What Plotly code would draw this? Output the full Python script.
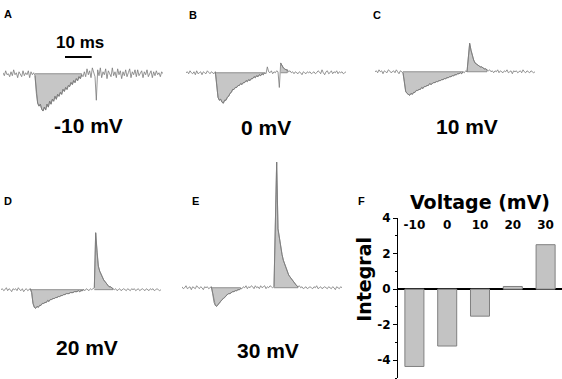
import plotly.graph_objects as go

W, H = 562, 379
dt_ms = 0.5  # sampling interval of the recordings

panel_letters = ["A", "B", "C", "D", "E", "F"]
trace_labels = ["-10 mV", "0 mV", "10 mV", "20 mV", "30 mV"]

# Current traces (arbitrary units, baseline = 0), sampled every 0.5 ms
current_A = [1, -2, 3, -1, 0, -3, 2, -2, 4, -1, 1, -4, 2, 0, -3, 3, -2, 1, -1, 3, -4, 2, -1, 1, -2,
             -20, -30, -33, -31, -36, -38, -34, -37, -31, -34, -28, -31, -26, -28, -23, -26, -21, -23,
             -19, -21, -16, -18, -14, -16, -12, -13, -9, -11, -7, -9, -5, -7, -3, -5, -1, -3,
             2, -3, 5, -1, 3, -4, 6, 0, -3, -27, 4, -2, 6, -4, 2, -1, 5, -5, 3, 0,
             -3, 6, -2, 2, -4, 5, -1, 3, -5, 2, -2, 4, -3, 1, 5, -4, 2, -1, 4, -3,
             4, -2, 0, 3, -4, 2, -1, 4, -3, 1, 3, -4, 2, -2, 3, -1, 1, -3, 2, 0]
current_B = [0, 1, -1, 2, 0, -1, 1, -2, 2, -1, 0, 1, -2, 1, 0, -1, 2, 0, -1, 1, 0, -1, 1,
             -14, -25, -28, -27, -30, -31, -28, -28, -25, -24, -21, -20, -17, -17, -15, -15, -13, -13,
             -11, -12, -10, -10, -8, -9, -7, -8, -6, -6, -4, -5, -3, -4, -2, -3, -1, -2, 0, -1,
             6, 1, 0, 2, -1, 1, 0, 2, 1, -15, 10, 7, 5, 4, 3, 3, 1, 2, 0, 1,
             -1, 1, 0, -1, 1, 0, -2, 1, 0, -1, 1, 0, 1, -1, 0, 1, -1, 0, 2, 1,
             -1, 3, 0, -2, 1, 2, -1, 0, 2, -1, 1, 0, 2, -1, 1, 0, 1, -1, 0, 1]
current_C = [0, 1, -1, 2, 0, 1, -2, 1, 0, -1, 2, 1, -1, 0, 1, -1, 2, 0, -2, 1, 0, -1,
             -10, -20, -22, -23, -24, -22, -23, -21, -21, -19, -19, -18, -18, -16, -17, -15, -15, -14,
             -14, -12, -13, -12, -11, -11, -10, -10, -9, -9, -8, -8, -7, -7, -6, -6, -5, -5, -4, -4,
             -3, -3, -2, -2, -1, -2, 0, -1,
             1, 0, 18, 29, 22, 16, 12, 9, 8, 7, 6, 5, 5, 4, 3, 3, 2, 1, 2, 0, 1, -1, 1, 0, 2, -1,
             1, 0, -1, 1, 0, 2, -1, 0, 1, -2, 1, 0, 1, -1, 0, 1, -1, 2, 0, -1, 1, 0, -1, 1, 0, -1, 0]
current_D = [0, 1, -1, 0, 2, -1, 1, 0, -2, 1, 0, 1, -1, 2, 0, -1, 1, -2, 0, 1, -1, 0, 1,
             -3, -14, -18, -19, -17, -18, -16, -16, -14, -14, -13, -13, -11, -12, -10, -10, -9, -9,
             -8, -8, -7, -7, -6, -6, -5, -5, -4, -4, -4, -3, -3, -3, -2, -2, -2, -1, -2, -1, -1, 0, -1,
             1, 0, -1, 1, 0, 1, 2, 58, 38, 24, 19, 15, 13, 10, 8, 6, 5, 3, 3, 2, 1, 0, 1, -1, 0, 1,
             -1, 0, 1, 0, -1, 1, 0, -1, 1, 0, 1, -1, 0, 1, -1, 0, 1, 0, -1, 1, 0, -1, 1, 0, 1, -1,
             0, 1, 0, -1, 0]
current_E = [1, -1, 0, 2, -1, 0, 1, -2, 1, 0, -1, 2, 0, -1, 1, 0, -2, 1, 0, 1, -1, 0, 1,
             -6, -15, -18, -19, -17, -16, -14, -12, -11, -10, -8, -7, -6, -6, -5, -4, -4, -3, -3, -2,
             -2, -1, -1,
             1, 0, 2, -1, 1, 0, 2, 1, -1, 2, 0, 1, -1, 2, 0, 1, 2, -1, 1, 0, 2, 1, 0, 1,
             51, 128, 60, 50, 43, 34, 28, 24, 20, 16, 13, 11, 9, 7, 5, 4, 2, 1, 2, 0,
             1, -1, 0, 1, -1, 0, 1, 0, -1, 1, 0, 2, -1, 0, 1, -1, 0, 1, 0, -1, 1, 0, -1, 1, 0,
             -2, 1, 0, -1, 1, 0]
currents = [current_A, current_B, current_C, current_D, current_E]

# Time windows (ms) of the shaded (integrated) responses
fill_windows_A = [(12.0, 29.5)]
fill_windows_B = [(11.0, 29.5), (35.5, 38.0)]
fill_windows_C = [(10.5, 33.0), (34.5, 42.0)]
fill_windows_D = [(11.0, 31.0), (35.0, 42.0)]
fill_windows_E = [(11.0, 22.0), (34.5, 43.5)]
fill_windows = [fill_windows_A, fill_windows_B, fill_windows_C, fill_windows_D, fill_windows_E]

scale_bar_ms = 10

# Panel F: integral vs voltage
voltage_categories = ["-10", "0", "10", "20", "30"]
integral_values = [-4.35, -3.2, -1.52, 0.15, 2.5]
integral_ticks = [4, 2, 0, -2, -4]
integral_tick_labels = ["4", "2", "0", "-2", "-4"]

LINE = "#7a7a7a"
FILL = "#c6c6c6"
ARIAL = "Arial, Liberation Sans, Helvetica, sans-serif"
HEAVY = "DejaVu Sans, Verdana, sans-serif"

fig = go.Figure()

# pixel geometry of trace panels: (left px, baseline px, top units)
geom = [(3, 68, 60), (186, 67, 60), (375, 66, 60), (1, 288, 135), (182, 286, 135)]
trace_span_px = 160
t_max = 60

layout = dict(width=W, height=H, margin=dict(l=0, r=0, t=0, b=0),
              paper_bgcolor="white", plot_bgcolor="white", showlegend=False,
              bargap=0.42)

for k, (vals, windows, (x0, base, top)) in enumerate(zip(currents, fill_windows, geom), start=1):
    t = [i * dt_ms for i in range(len(vals))]
    xa = "x" if k == 1 else f"x{k}"
    ya = "y" if k == 1 else f"y{k}"
    for (s, e) in windows:
        idx = [i for i, tt in enumerate(t) if s <= tt <= e]
        px = [t[i] for i in idx] + [t[idx[-1]], t[idx[0]]]
        py = [vals[i] for i in idx] + [0, 0]
        fig.add_trace(go.Scatter(x=px, y=py, mode="lines", fill="toself",
                                 fillcolor=FILL, line=dict(color=LINE, width=0.8),
                                 xaxis=xa, yaxis=ya, hoverinfo="skip"))
    fig.add_trace(go.Scatter(x=t, y=vals, mode="lines",
                             line=dict(color=LINE, width=0.8),
                             xaxis=xa, yaxis=ya))
    xk = "xaxis" if k == 1 else f"xaxis{k}"
    yk = "yaxis" if k == 1 else f"yaxis{k}"
    layout[xk] = dict(domain=[x0 / W, (x0 + trace_span_px) / W], range=[0, t_max],
                      visible=False, anchor=ya)
    layout[yk] = dict(domain=[1 - (base + 45) / H, 1 - (base - top) / H], range=[-45, top],
                      visible=False, anchor=xa)

# Panel F bars
fig.add_trace(go.Bar(x=voltage_categories, y=integral_values, xaxis="x6", yaxis="y6",
                     marker=dict(color="#c3c3c3", line=dict(color="#808080", width=1))))

y_top_px, y_bot_px = 215, 378
layout["xaxis6"] = dict(domain=[398 / W, 1], type="category", side="top",
                        anchor="free", position=1 - 229 / H,
                        showline=False, ticks="", showgrid=False, zeroline=False,
                        tickvals=voltage_categories,
                        ticktext=[f"<b>{v}</b>" for v in voltage_categories],
                        tickfont=dict(family=HEAVY, size=12, color="black"),
                        title=dict(text="<b>Voltage (mV)</b>", standoff=2,
                                   font=dict(family=HEAVY, size=19, color="black")))
layout["yaxis6"] = dict(domain=[1 - y_bot_px / H, 1 - y_top_px / H], range=[-5, 4],
                        anchor="x6", showline=True, linecolor="black", linewidth=1,
                        ticks="outside", ticklen=4, tickwidth=1, tickcolor="black",
                        tickvals=integral_ticks,
                        ticktext=[f"<b>{v}</b>" for v in integral_tick_labels],
                        showgrid=False,
                        minor=dict(ticks="outside", ticklen=2, dtick=1, tickcolor="black"),
                        zeroline=True, zerolinecolor="black", zerolinewidth=1.5,
                        tickfont=dict(family=HEAVY, size=12, color="black"))

annotations = []


def ann(x, y, text, size, family=ARIAL, angle=0):
    return dict(x=x / W, y=1 - y / H, xref="paper", yref="paper", xanchor="center",
                yanchor="middle", text=f"<b>{text}</b>", showarrow=False, textangle=angle,
                font=dict(family=family, size=size, color="black"))


letter_pos = [(7.5, 7.5), (193, 8), (377, 8), (7.5, 197.5), (195.5, 197.5), (361, 197.5)]
for letter, (lx, ly) in zip(panel_letters, letter_pos):
    annotations.append(ann(lx, ly, letter, 11))
label_pos = [(88, 121), (266, 123), (467, 122), (87, 347), (268, 350)]
for lab, (lx, ly) in zip(trace_labels, label_pos):
    annotations.append(ann(lx, ly, lab, 21))
annotations.append(ann(80, 36, f"{scale_bar_ms} ms", 17))
annotations.append(ann(364, 278, "Integral", 19, family=HEAVY, angle=-90))
layout["annotations"] = annotations

# scale bar in panel A data coordinates
bar_start = 23.25
layout["shapes"] = [dict(type="line", xref="x", yref="y", x0=bar_start, x1=bar_start + scale_bar_ms,
                         y0=17, y1=17, line=dict(color="black", width=2))]

fig.update_layout(**layout)
fig.write_html("out.html", config={"displayModeBar": False},
               post_script="document.body.style.margin='0';")
